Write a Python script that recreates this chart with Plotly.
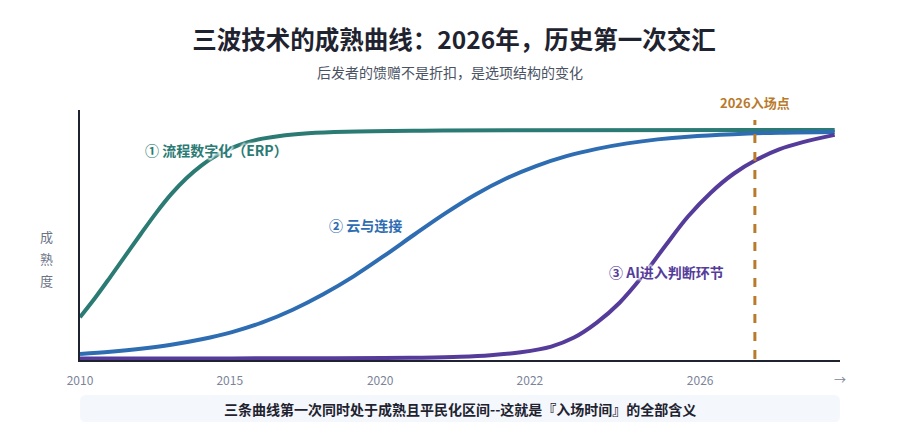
import plotly.graph_objects as go

# x: progress along the time axis (0-100), y: maturity (0-100)
erp_x = [0, 2, 4, 6, 8, 10, 12, 14, 16, 18, 20, 22, 24, 27, 30, 35, 45, 58, 99.3]
erp_y = [16.8, 24.6, 33.0, 41.6, 50.2, 58.6, 66.2, 72.6, 77.8, 81.8, 84.8, 87.0, 88.5, 89.9, 90.7, 91.3, 91.7, 91.9, 92.0]

cloud_x = [0, 4, 8, 12, 16, 20, 24, 28, 32, 36, 40, 44, 48, 52, 56, 60, 64, 68, 72, 76, 80, 86, 92, 99.3]
cloud_y = [2.0, 2.9, 4.1, 5.7, 7.9, 10.8, 14.7, 19.8, 26.0, 33.2, 41.4, 50.0, 58.4, 66.0, 72.4, 77.5,
           81.5, 84.4, 86.6, 88.2, 89.3, 90.3, 90.9, 91.2]

ai_x = [0, 20, 30, 40, 45, 50, 54, 58, 62, 65, 68, 71, 74, 77, 80, 83, 86, 89, 92, 95, 99.3]
ai_y = [0.2, 0.25, 0.3, 0.4, 0.55, 0.9, 1.5, 2.7, 5.0, 8.6, 14.6, 22.6, 33.2, 45.4, 57.2, 66.8, 74.4,
        80.0, 84.2, 87.0, 90.0]

tick_pos = [0, 19.7, 39.5, 59.2, 81.6]
tick_text = ['2010', '2015', '2020', '2022', '2026']
entry_x = 88.8

FONT = 'Noto Sans CJK SC'
TEAL = '#2b7b74'
BLUE = '#2f6db2'
PURPLE = '#553c9a'
GOLD = '#b97a2b'
HALO = '2px 0px 2px white, -2px 0px 2px white, 0px 2px 2px white, 0px -2px 2px white'

fig = go.Figure()
for xs, ys, col in [(erp_x, erp_y, TEAL), (cloud_x, cloud_y, BLUE), (ai_x, ai_y, PURPLE)]:
    fig.add_trace(go.Scatter(x=xs, y=ys, mode='lines',
                             line=dict(color=col, width=4, shape='spline', smoothing=1, simplify=False)))

# 2026 entry marker
fig.add_shape(type='line', x0=entry_x, x1=entry_x, y0=0, y1=96, xref='x', yref='y',
              line=dict(color=GOLD, width=3, dash='dash'))
fig.add_annotation(x=entry_x, y=1.03, xref='x', yref='paper', text='<b>2026入场点</b>', showarrow=False,
                   xanchor='center', yanchor='middle', font=dict(family=FONT, size=13, color=GOLD))

# curve labels
labels = [
    (18.0, 84, '<b>① 流程数字化（ERP）</b>', TEAL),
    (37.6, 54, '<b>② 云与连接</b>', BLUE),
    (77.2, 34.8, '<b>③ AI进入判断环节</b>', PURPLE),
]
for lx, ly, txt, col in labels:
    fig.add_annotation(x=lx, y=ly, xref='x', yref='y', text=txt, showarrow=False,
                       xanchor='center', yanchor='middle',
                       font=dict(family=FONT, size=14, color=col, shadow=HALO))

# y axis title, stacked characters
for i, ch in enumerate('成熟度'):
    fig.add_annotation(x=-0.0447, y=0.496 - i * 0.088, xref='paper', yref='paper', text=ch, showarrow=False,
                       xanchor='center', yanchor='middle', font=dict(family=FONT, size=13, color='#6b7385'))

# arrow at the end of the time axis
fig.add_annotation(x=100, y=-0.076, xref='x', yref='paper', text='→', showarrow=False,
                   xanchor='center', yanchor='middle', font=dict(family=FONT, size=12, color='#7b8499'))

# subtitle
fig.add_annotation(x=0.487, y=1.152, xref='paper', yref='paper', text='后发者的馈赠不是折扣，是选项结构的变化',
                   showarrow=False, xanchor='center', yanchor='middle',
                   font=dict(family=FONT, size=14, color='#4a5263'))

# bottom banner
rx, ry = 0.008, 0.024
x0, x1, y0, y1 = 0.0, 1.0, -0.248, -0.14
path = (f'M {x0+rx} {y0} L {x1-rx} {y0} Q {x1} {y0} {x1} {y0+ry} L {x1} {y1-ry} Q {x1} {y1} {x1-rx} {y1} '
        f'L {x0+rx} {y1} Q {x0} {y1} {x0} {y1-ry} L {x0} {y0+ry} Q {x0} {y0} {x0+rx} {y0} Z')
fig.add_shape(type='path', path=path, xref='paper', yref='paper', fillcolor='#f4f7fb', line=dict(width=0), layer='below')
fig.add_annotation(x=0.5, y=-0.196, xref='paper', yref='paper',
                   text='<b>三条曲线第一次同时处于成熟且平民化区间--这就是『入场时间』的全部含义</b>',
                   showarrow=False, xanchor='center', yanchor='middle',
                   font=dict(family=FONT, size=14, color='#1f2330'))

# page body has an 8px margin, so the figure is 8px smaller each way
fig.update_layout(
    width=892, height=422,
    margin=dict(l=72, r=60, t=102, b=70),
    paper_bgcolor='white', plot_bgcolor='white',
    showlegend=False,
    font=dict(family=FONT),
    title=dict(text='<b>三波技术的成熟曲线：2026年，历史第一次交汇</b>', x=0.5, xanchor='center',
               y=1 - 32 / 422, yanchor='middle', font=dict(family=FONT, size=24.5, color='#1f2330')),
)
fig.update_xaxes(range=[0, 100], showgrid=False, zeroline=False, showline=True, linecolor='#1f2330', linewidth=2,
                 tickvals=tick_pos, ticktext=tick_text, ticks='', ticklabelstandoff=9,
                 tickfont=dict(family=FONT, size=12, color='#7b8499'), layer='below traces')
fig.update_yaxes(range=[-0.4, 100], showgrid=False, zeroline=False, showline=True, linecolor='#1f2330', linewidth=2,
                 showticklabels=False, ticks='', layer='below traces')

fig.write_html('out.html')
